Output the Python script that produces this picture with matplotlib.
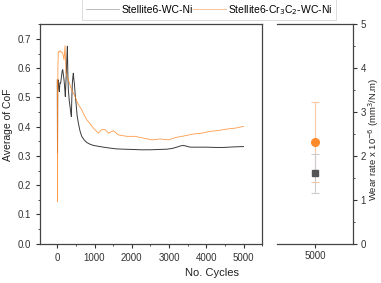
import matplotlib
matplotlib.use("Agg")
import matplotlib.pyplot as plt
from matplotlib.ticker import MultipleLocator
from matplotlib.lines import Line2D

plt.rcParams['font.family'] = ['Liberation Sans', 'DejaVu Sans']

# Stellite6-WC-Ni CoF curve
cyc_a = [0, 5, 10, 27, 40, 54, 70, 90, 110, 130, 145, 160, 180, 200, 215, 230, 242, 255, 270, 283,
         296, 320, 341, 360, 377, 390, 404, 418, 430, 445, 457, 480, 502, 530, 565, 610, 655, 720,
         790, 880, 968, 1100, 1237, 1400, 1595, 1800, 2043, 2250, 2491, 2700, 2939, 3100, 3208,
         3300, 3387, 3480, 3566, 3800, 4014, 4250, 4462, 4750, 5000]
cof_a = [0.56, 0.31, 0.55, 0.56, 0.53, 0.52, 0.55, 0.549, 0.57, 0.59, 0.595, 0.58, 0.56, 0.53,
         0.503, 0.55, 0.583, 0.63, 0.675, 0.58, 0.526, 0.49, 0.469, 0.45, 0.435, 0.5, 0.549, 0.57,
         0.583, 0.56, 0.549, 0.51, 0.481, 0.44, 0.412, 0.385, 0.367, 0.355, 0.346, 0.34, 0.336,
         0.333, 0.330, 0.327, 0.324, 0.323, 0.322, 0.321, 0.321, 0.322, 0.323, 0.326, 0.330,
         0.334, 0.336, 0.333, 0.330, 0.330, 0.330, 0.329, 0.329, 0.331, 0.332]

# Stellite6-Cr3C2-WC-Ni CoF curve
cyc_b = [0, 5, 15, 27, 50, 72, 110, 145, 180, 207, 233, 296, 386, 475, 565, 655, 720, 790, 880,
         968, 1102, 1192, 1282, 1371, 1506, 1640, 1864, 2088, 2312, 2536, 2760, 2984, 3208, 3432,
         3656, 3880, 4104, 4328, 4552, 4776, 5000]
cof_b = [0.56, 0.144, 0.6, 0.657, 0.655, 0.66, 0.655, 0.652, 0.629, 0.677, 0.583, 0.56, 0.526,
         0.503, 0.475, 0.458, 0.44, 0.424, 0.41, 0.395, 0.378, 0.39, 0.39, 0.378, 0.386, 0.372,
         0.367, 0.367, 0.361, 0.355, 0.358, 0.355, 0.364, 0.369, 0.375, 0.378, 0.384, 0.387,
         0.392, 0.395, 0.401]

# Wear rate (x1e-6 mm^3/N.m) at 5000 cycles
wear_x = [5000]
wear_a = [1.6]
wear_a_err = [0.45]
wear_b = [2.32]
wear_b_err = [0.92]

labels = ['Stellite6-WC-Ni', 'Stellite6-Cr$_3$C$_2$-WC-Ni']
col_a = '#3a3a3a'
col_b = '#ff8a2a'

fig = plt.figure(figsize=(3.81, 2.83), dpi=100)
ax = fig.add_axes([0.105, 0.139, 0.583, 0.775])
ax2 = fig.add_axes([0.727, 0.139, 0.199, 0.775])

ax.plot(cyc_a, cof_a, color=col_a, lw=0.7)
ax.plot(cyc_b, cof_b, color=col_b, lw=0.6, alpha=0.85)
ax.set_xlim(-465, 5500)
ax.set_ylim(0, 0.75)
ax.set_xticks([0, 1000, 2000, 3000, 4000, 5000])
ax.set_yticks([0.0, 0.1, 0.2, 0.3, 0.4, 0.5, 0.6, 0.7])
ax.xaxis.set_minor_locator(MultipleLocator(500))
ax.yaxis.set_minor_locator(MultipleLocator(0.05))
ax.tick_params(which='both', direction='out', labelsize=7, colors='#333333', top=False, right=False)
ax.tick_params(which='major', length=3, width=0.8)
ax.tick_params(which='minor', length=1.5, width=0.6)
for s in ax.spines.values():
    s.set_color('#444444')
    s.set_linewidth(0.9)

ax2.errorbar(wear_x, wear_b, yerr=wear_b_err, fmt='o', color=col_b, ms=5.5,
             ecolor='#f6c8a4', elinewidth=0.8, capsize=3, capthick=0.8, zorder=3)
ax2.errorbar(wear_x, wear_a, yerr=wear_a_err, fmt='s', color='#555555', ms=4,
             ecolor='#cccccc', elinewidth=0.8, capsize=3, capthick=0.8, zorder=4)
ax2.set_xlim(4000, 6000)
ax2.set_ylim(0, 5)
ax2.set_xticks([5000])
ax2.set_yticks([0, 1, 2, 3, 4, 5])
ax2.yaxis.set_minor_locator(MultipleLocator(0.5))
ax2.yaxis.tick_right()
ax2.spines['left'].set_visible(False)
for s in ax2.spines.values():
    s.set_color('#444444')
    s.set_linewidth(0.9)
ax2.tick_params(which='both', direction='out', labelsize=7, colors='#333333', left=False)
ax2.tick_params(which='major', length=3, width=0.8, pad=2.5)
ax2.tick_params(which='minor', length=1.5, width=0.6)

fig.text(0.020, 0.558, 'Average of CoF', rotation=90, ha='center', va='center',
         fontsize=7.5, color='#222222')
fig.text(0.981, 0.509, 'Wear rate x 10$^{-6}$ (mm$^3$/N.m)', rotation=90, ha='center',
         va='center', fontsize=6.8, color='#222222')
fig.text(0.556, 0.035, 'No. Cycles', ha='center', va='center', fontsize=8, color='#222222')

handles = [Line2D([], [], color='#b0b0b0', lw=0.6), Line2D([], [], color='#f8b888', lw=0.6)]
leg = fig.legend(handles, labels, loc='center', bbox_to_anchor=(0.549, 0.965), ncol=2,
                 fontsize=7.5, frameon=True, handlelength=3.2, columnspacing=0.0,
                 borderpad=0.35, handletextpad=0.2, fancybox=False)
leg.get_frame().set_edgecolor('#cccccc')
leg.get_frame().set_linewidth(0.6)

fig.savefig('out.png', dpi=100)
